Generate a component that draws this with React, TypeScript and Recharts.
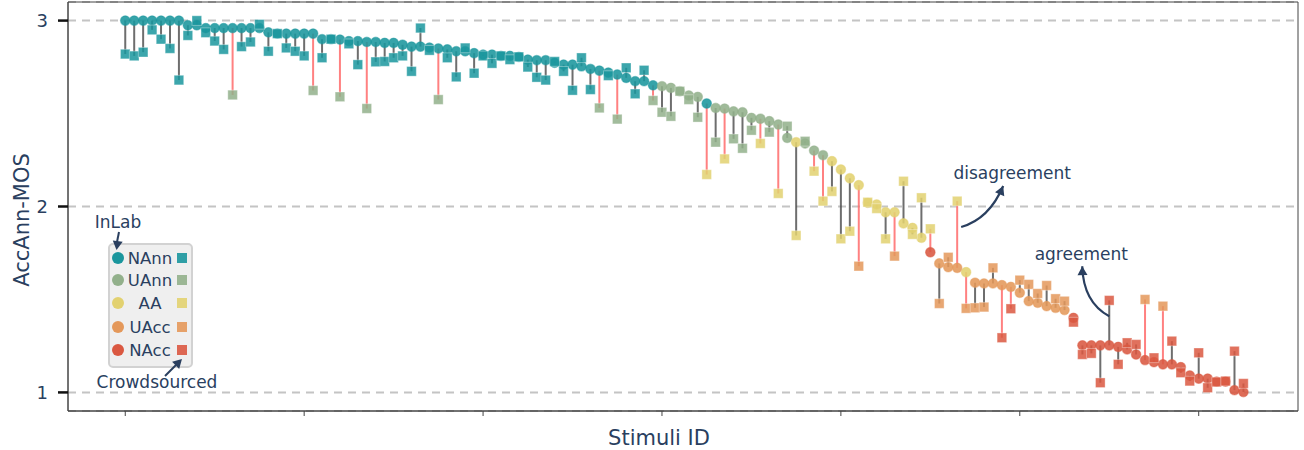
import React from 'react';
import {
  ComposedChart,
  Scatter,
  XAxis,
  YAxis,
  CartesianGrid,
  ErrorBar,
  ReferenceArea,
  ReferenceDot,
} from 'recharts';

const categories = ['NAnn', 'UAnn', 'AA', 'UAcc', 'NAcc'];
const catColors = ['#1a969d', '#92b08b', '#e2d170', '#e4985a', '#da5841'];
const xTicks = [0, 20, 40, 60, 80, 100, 120];
const yTicks = [1, 2, 3];

// InLab MOS (circles), sorted high to low
const inLab = [
  3.0, 3.0, 3.0, 3.0, 3.0, 3.0, 3.0, 2.975, 2.975, 2.96,
  2.96, 2.96, 2.96, 2.96, 2.96, 2.96, 2.937, 2.93, 2.93, 2.93,
  2.93, 2.93, 2.9, 2.9, 2.898, 2.89, 2.89, 2.885, 2.885, 2.88,
  2.88, 2.87, 2.86, 2.86, 2.855, 2.85, 2.845, 2.835, 2.835, 2.825,
  2.817, 2.817, 2.81, 2.81, 2.805, 2.79, 2.787, 2.787, 2.773, 2.763,
  2.763, 2.754, 2.74, 2.731, 2.72, 2.71, 2.692, 2.674, 2.674, 2.652,
  2.647, 2.638, 2.62, 2.597, 2.59, 2.554, 2.53, 2.527, 2.512, 2.507,
  2.477, 2.472, 2.459, 2.441, 2.369, 2.346, 2.339, 2.301, 2.276, 2.244,
  2.199, 2.152, 2.115, 2.02, 2.011, 1.969, 1.969, 1.909, 1.885, 1.832,
  1.754, 1.694, 1.674, 1.67, 1.647, 1.59, 1.586, 1.586, 1.577, 1.568,
  1.536, 1.491, 1.482, 1.464, 1.455, 1.443, 1.401, 1.253, 1.253, 1.253,
  1.253, 1.245, 1.231, 1.204, 1.174, 1.163, 1.151, 1.151, 1.136, 1.091,
  1.074, 1.074, 1.058, 1.058, 1.012, 1.002,
];

// Crowdsourced MOS (squares)
const crowd = [
  2.82, 2.81, 2.83, 2.95, 2.9, 2.85, 2.68, 2.92, 3.0, 2.935,
  2.89, 2.845, 2.6, 2.86, 2.885, 2.98, 2.835, 2.93, 2.853, 2.835,
  2.81, 2.624, 2.8, 2.9, 2.59, 2.875, 2.763, 2.527, 2.778, 2.78,
  2.8, 2.81, 2.727, 2.96, 2.84, 2.575, 2.8, 2.697, 2.853, 2.717,
  2.81, 2.77, 2.81, 2.79, 2.805, 2.75, 2.695, 2.68, 2.78, 2.727,
  2.625, 2.8, 2.629, 2.53, 2.704, 2.47, 2.746, 2.606, 2.733, 2.57,
  2.507, 2.485, 2.62, 2.575, 2.48, 2.172, 2.346, 2.256, 2.364, 2.313,
  2.41, 2.339, 2.4, 2.07, 2.432, 1.844, 2.351, 2.19, 2.029, 2.081,
  1.826, 1.867, 1.679, 2.023, 1.989, 1.826, 1.733, 2.136, 1.85, 2.047,
  1.88, 1.478, 1.727, 2.029, 1.452, 1.455, 1.459, 1.67, 1.294, 1.45,
  1.604, 1.581, 1.532, 1.575, 1.504, 1.491, 1.378, 1.204, 1.21, 1.052,
  1.495, 1.151, 1.267, 1.258, 1.5, 1.186, 1.464, 1.276, 1.106, 1.061,
  1.213, 1.025, 1.056, 1.061, 1.222, 1.048,
];

// category index (into categories) per stimulus
const inLabCat = [
  0, 0, 0, 0, 0, 0, 0, 0, 0, 0,
  0, 0, 0, 0, 0, 0, 0, 0, 0, 0,
  0, 0, 0, 0, 0, 0, 0, 0, 0, 0,
  0, 0, 0, 0, 0, 0, 0, 0, 0, 0,
  0, 0, 0, 0, 0, 0, 0, 0, 0, 0,
  0, 0, 0, 0, 0, 0, 0, 0, 0, 0,
  1, 1, 1, 1, 1, 0, 1, 1, 1, 1,
  1, 1, 1, 1, 1, 2, 1, 1, 1, 2,
  2, 2, 2, 2, 2, 2, 2, 2, 2, 2,
  4, 3, 3, 3, 2, 3, 3, 3, 3, 3,
  3, 3, 3, 3, 3, 3, 4, 4, 4, 4,
  4, 4, 4, 4, 4, 4, 4, 4, 4, 4,
  4, 4, 4, 4, 4, 4,
];

const crowdCat = [
  0, 0, 0, 0, 0, 0, 0, 0, 0, 0,
  0, 0, 1, 0, 0, 0, 0, 0, 0, 0,
  0, 1, 0, 0, 1, 0, 0, 1, 0, 0,
  0, 0, 0, 0, 0, 1, 0, 0, 0, 0,
  0, 0, 0, 0, 0, 0, 0, 0, 0, 0,
  0, 0, 0, 1, 0, 1, 0, 0, 0, 1,
  1, 1, 1, 1, 1, 2, 1, 2, 1, 1,
  1, 2, 1, 2, 1, 2, 1, 2, 2, 2,
  2, 2, 3, 2, 2, 2, 3, 2, 2, 2,
  2, 3, 3, 2, 3, 3, 3, 3, 4, 4,
  3, 3, 3, 3, 3, 3, 4, 4, 4, 4,
  4, 4, 4, 4, 3, 4, 3, 4, 4, 4,
  4, 4, 4, 4, 4, 4,
];

const annotations = [
  { x: 93, y: 1.89, text: 'disagreement', kind: 'up-right' },
  { x: 110, y: 1.41, text: 'agreement', kind: 'up-left' },
];

const rows = inLab.map((v, i) => ({
  x: i,
  inLab: v,
  crowd: crowd[i],
  ci: inLabCat[i],
  si: crowdCat[i],
  err: crowd[i] < v ? [v - crowd[i], 0] : [0, crowd[i] - v],
}));

const textColor = '#2a3f5f';
const font = '"DejaVu Sans", Verdana, sans-serif';

const circleShape = (color: string) => (p: any) => (
  <circle cx={p.cx} cy={p.cy} r={4.8} fill={color} fillOpacity={0.88} stroke={color} strokeOpacity={0.45} strokeWidth={1.2} />
);

const squareShape = (color: string) => (p: any) => (
  <rect x={p.cx - 4.8} y={p.cy - 4.8} width={9.6} height={9.6} fill={color} fillOpacity={0.85} stroke="#ffffff" strokeOpacity={0.35} strokeWidth={1} />
);

const arrowHead = (tx: number, ty: number, fx: number, fy: number) => {
  const dx = tx - fx;
  const dy = ty - fy;
  const len = Math.sqrt(dx * dx + dy * dy);
  const ux = dx / len;
  const uy = dy / len;
  const bx = tx - ux * 9;
  const by = ty - uy * 9;
  return `${tx},${ty} ${bx - uy * 5},${by + ux * 5} ${bx + uy * 5},${by - ux * 5}`;
};

const annotationShape = (a: any) => (p: any) => {
  const { cx, cy } = p;
  if (a.kind === 'up-right') {
    const sx = cx + 4, sy = cy, qx = cx + 32, qy = cy - 8, ex = cx + 46, ey = cy - 41;
    return (
      <g>
        <path d={`M${sx},${sy} Q${qx},${qy} ${ex},${ey}`} fill="none" stroke={textColor} strokeWidth={2.2} />
        <polygon points={arrowHead(ex, ey, qx, qy)} fill={textColor} />
        <text x={cx + 55} y={cy - 48} textAnchor="middle" fontSize={17} fill={textColor} fontFamily={font}>{a.text}</text>
      </g>
    );
  }
  const sx = cx, sy = cy, qx = cx - 26, qy = cy - 14, ex = cx - 27, ey = cy - 50;
  return (
    <g>
      <path d={`M${sx},${sy} Q${qx},${qy} ${ex},${ey}`} fill="none" stroke={textColor} strokeWidth={2.2} />
      <polygon points={arrowHead(ex, ey, qx, qy)} fill={textColor} />
      <text x={cx - 28} y={cy - 56} textAnchor="middle" fontSize={17} fill={textColor} fontFamily={font}>{a.text}</text>
    </g>
  );
};

const legendRows = [258, 280, 303, 327, 350];

const Overlay = () => (
  <svg width={1304} height={450} style={{ position: 'absolute', left: 0, top: 0, pointerEvents: 'none' }}>
    {/* axis titles */}
    <text x={659} y={445} textAnchor="middle" fontSize={21} fill={textColor} fontFamily={font}>Stimuli ID</text>
    <text x={29} y={220} transform="rotate(-90 29 220)" textAnchor="middle" fontSize={21} fill={textColor} fontFamily={font}>AccAnn-MOS</text>
    {/* legend */}
    <rect x={109} y={244} width={83} height={123} rx={4} fill="#efefef" stroke="#d2d2d2" strokeWidth={2} />
    {categories.map((c, k) => (
      <g key={c}>
        <circle cx={118} cy={legendRows[k]} r={6} fill={catColors[k]} />
        <text x={150} y={legendRows[k] + 6} textAnchor="middle" fontSize={16.5} fill={textColor} fontFamily={font}>{c}</text>
        <rect x={177} y={legendRows[k] - 5} width={10} height={10} fill={catColors[k]} fillOpacity={0.9} />
      </g>
    ))}
    <text x={118} y={228} textAnchor="middle" fontSize={17} fill={textColor} fontFamily={font}>InLab</text>
    <line x1={119} y1={232} x2={117} y2={242} stroke={textColor} strokeWidth={2} />
    <polygon points={arrowHead(116.5, 250, 119, 232)} fill={textColor} />
    <line x1={165} y1={376} x2={176} y2={365} stroke={textColor} strokeWidth={2} />
    <polygon points={arrowHead(182, 359, 165, 376)} fill={textColor} />
    <text x={157} y={388} textAnchor="middle" fontSize={17} fill={textColor} fontFamily={font}>Crowdsourced</text>
  </svg>
);

export default function App() {
  const agree = rows.filter((r) => r.ci === r.si);
  const disagree = rows.filter((r) => r.ci !== r.si);
  return (
    <div style={{ position: 'absolute', left: 0, top: 0, width: 1304, height: 450, background: '#fff', fontFamily: font }}>
      <ComposedChart width={1304} height={450} margin={{ top: 2, right: 6, bottom: 0, left: 8 }}>
        <CartesianGrid vertical={false} stroke="#c4c4c4" strokeDasharray="8 6" strokeWidth={2} />
        <XAxis
          dataKey="x"
          type="number"
          domain={[-6.4, 131.1]}
          allowDataOverflow
          ticks={xTicks}
          tickFormatter={() => ''}
          tickSize={5}
          height={39}
          stroke="#444"
          tickLine={{ stroke: '#444' }}
        />
        <YAxis
          type="number"
          domain={[0.9, 3.1]}
          allowDataOverflow
          ticks={yTicks}
          width={60}
          tickSize={10}
          tickMargin={10}
          stroke="#444"
          tickLine={{ stroke: '#111', strokeWidth: 2.5 }}
          tick={{ fill: textColor, fontSize: 18 }}
        />
        <ReferenceArea x1={-6.4} x2={131.1} y1={0.9} y2={3.1} fill="none" stroke="#444" strokeWidth={1} ifOverflow="visible" />
        {categories.map((c, k) => (
          <Scatter
            key={'in-' + c}
            name={c}
            data={rows.filter((r) => r.ci === k)}
            dataKey="inLab"
            shape={circleShape(catColors[k])}
            isAnimationActive={false}
          />
        ))}
        {categories.map((c, k) => (
          <Scatter
            key={'cr-' + c}
            name={c}
            data={rows.filter((r) => r.si === k)}
            dataKey="crowd"
            shape={squareShape(catColors[k])}
            isAnimationActive={false}
          />
        ))}
        <Scatter data={agree} dataKey="inLab" shape={() => <g />} isAnimationActive={false}>
          <ErrorBar dataKey="err" direction="y" width={0} stroke="#4a4a4a" strokeWidth={2} strokeOpacity={0.8} isAnimationActive={false} />
        </Scatter>
        <Scatter data={disagree} dataKey="inLab" shape={() => <g />} isAnimationActive={false}>
          <ErrorBar dataKey="err" direction="y" width={0} stroke="#ff6b6b" strokeWidth={2} strokeOpacity={0.85} isAnimationActive={false} />
        </Scatter>
        {annotations.map((a) => (
          <ReferenceDot key={a.text} x={a.x} y={a.y} r={0} ifOverflow="visible" shape={annotationShape(a)} />
        ))}
      </ComposedChart>
      <Overlay />
    </div>
  );
}
